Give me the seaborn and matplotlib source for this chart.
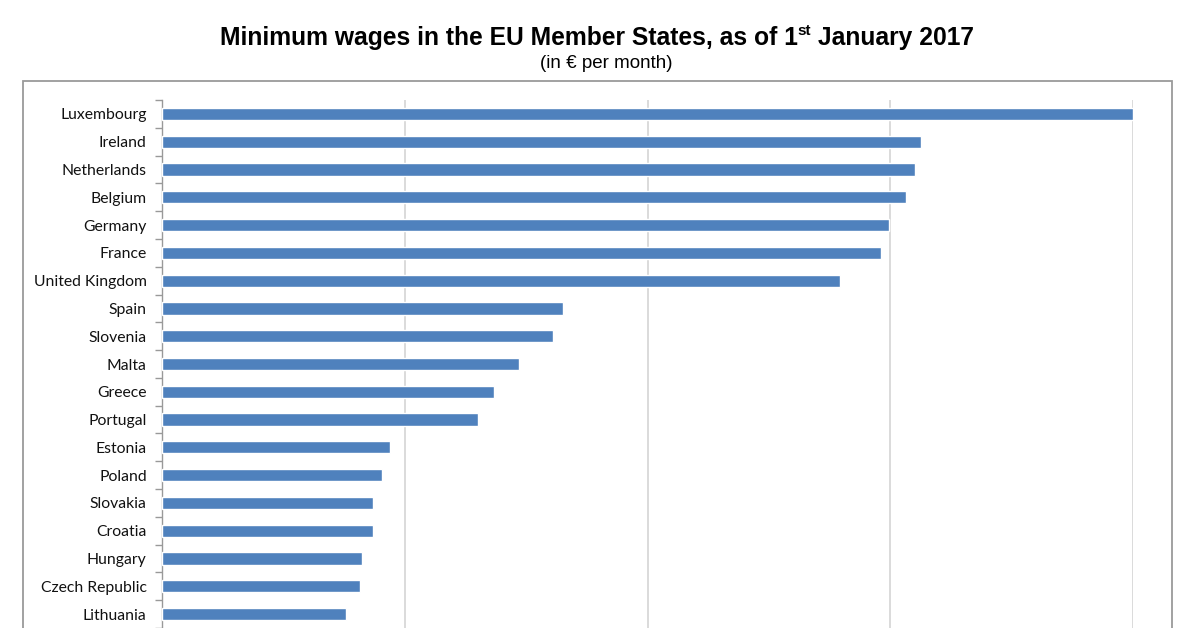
import matplotlib
matplotlib.use("Agg")
import matplotlib.pyplot as plt
import seaborn as sns
import pandas as pd

countries = ["Luxembourg", "Ireland", "Netherlands", "Belgium", "Germany", "France",
             "United Kingdom", "Spain", "Slovenia", "Malta", "Greece", "Portugal",
             "Estonia", "Poland", "Slovakia", "Croatia", "Hungary", "Czech Republic",
             "Lithuania"]
wages = [1999, 1563, 1552, 1532, 1498, 1480, 1397, 826, 805, 736, 684, 650,
         470, 453, 435, 434, 412, 407, 380]
x_ticks = [0, 500, 1000, 1500, 2000]

df = pd.DataFrame({"country": countries, "wage": wages})

sns.set_theme(style="white")
plt.rcParams["font.family"] = ["Liberation Sans", "DejaVu Sans"]

W, H = 1200, 628
fig = plt.figure(figsize=(W / 100, H / 100), dpi=100)
fig.patch.set_facecolor("white")

# outer frame (chart area border)
frame = plt.Rectangle((23 / W, -0.05), (1172 - 23) / W, (628 - 81) / H + 0.05,
                      transform=fig.transFigure, fill=False,
                      edgecolor="#9a9a9a", linewidth=1.3, zorder=0)
fig.add_artist(frame)

ax = fig.add_axes([162 / W, 0, (1133 - 162) / W, (628 - 100) / H])
sns.barplot(data=df, y="country", x="wage", orient="h", color="#4F81BD",
            width=0.44, saturation=1, ax=ax, zorder=3)

ax.set_xlim(0, 2000)
rows_visible = (628 - 100) / 28
ax.set_ylim(rows_visible - 0.5, -0.5)
ax.set_xticks(x_ticks)
ax.xaxis.grid(True, color="#d4d4d4", linewidth=1.2, zorder=0)
ax.set_axisbelow(True)
ax.tick_params(axis="x", bottom=False, labelbottom=False)

# category boundary ticks on the y axis
ax.set_yticks(range(len(countries)))
ax.set_yticklabels(countries)
ax.tick_params(axis="y", which="major", left=False, pad=5, labelsize=11.3,
               labelcolor="#111111")
for lbl in ax.get_yticklabels():
    lbl.set_fontfamily(["Lato", "DejaVu Sans"])
ax.set_yticks([i - 0.5 for i in range(len(countries) + 1)], minor=True)
ax.tick_params(axis="y", which="minor", left=True, length=5, width=1,
               color="#999999", direction="out")

for s in ["top", "right", "bottom"]:
    ax.spines[s].set_visible(False)
ax.spines["left"].set_color("#999999")
ax.spines["left"].set_linewidth(1)
ax.set_xlabel("")
ax.set_ylabel("")

# title with superscript
fig.canvas.draw()
r = fig.canvas.get_renderer()
parts = [("Minimum wages in the EU Member States, as of 1", 17.7, 0),
         ("st", 11, 10),
         (" January 2017", 17.7, 0)]
texts = []
for s, fs, dy in parts:
    t = fig.text(0, 0, s, fontsize=fs, fontweight="bold", color="black",
                 ha="left", va="baseline")
    texts.append((t, dy))
widths = [t.get_window_extent(r).width for t, _ in texts]
total = sum(widths)
x0 = 597 - total / 2
base_y = H - 45
for (t, dy), w in zip(texts, widths):
    t.set_position((x0 / W, (base_y + dy) / H))
    x0 += w

fig.text(606 / W, (H - 64) / H, "(in € per month)", fontsize=13.5,
         ha="center", va="center", color="black")

fig.savefig("out.png", dpi=100, facecolor="white")
